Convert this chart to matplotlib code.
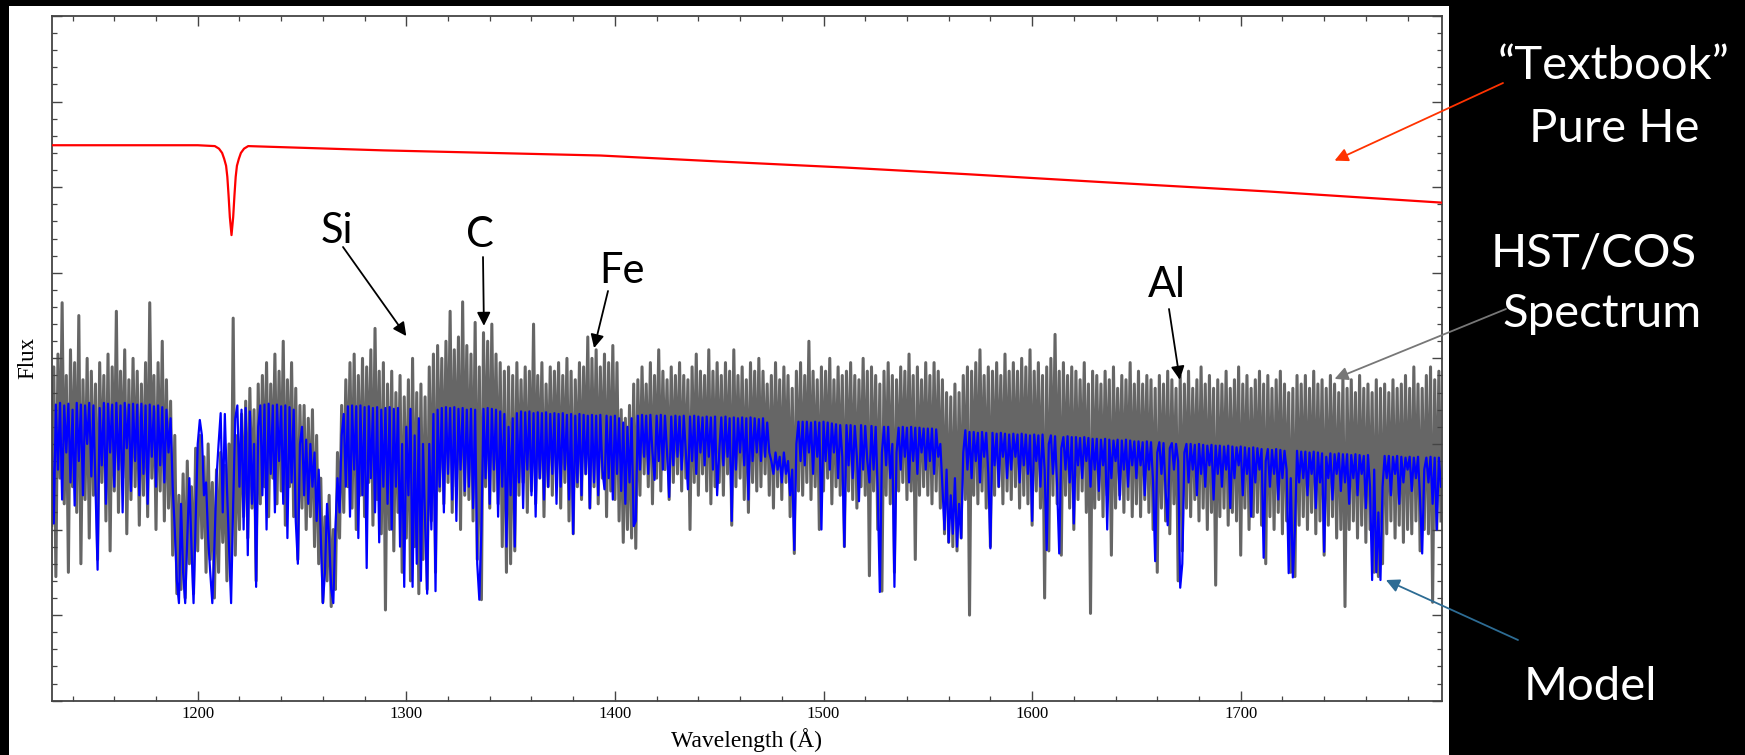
import numpy as np
import matplotlib
matplotlib.use('Agg')
import matplotlib.pyplot as plt
from matplotlib.patches import Rectangle
from matplotlib.ticker import MultipleLocator, NullFormatter

# ---- data (flux in arbitrary units, 1 A steps) ----
wl_start = 1130
# observed HST/COS spectrum, hundredths of a flux unit
gray_flux = [
    205,390,145,405,260,465,230,380,150,410,250,395,220,450,160,375,235,400,190,385,
    240,370,165,395,255,380,210,405,175,390,245,455,220,385,260,410,195,375,235,400,
    250,385,205,370,240,395,215,465,260,380,200,395,245,420,210,375,225,350,170,310,
    125,240,130,265,120,280,160,250,125,295,175,310,190,285,150,300,165,255,120,270,
    150,290,185,275,140,300,160,447,170,310,200,335,215,350,190,365,225,340,140,370,
    230,380,250,395,215,370,260,405,230,385,245,420,205,375,250,395,215,365,165,345,
    225,345,200,330,215,340,180,310,160,260,115,215,140,240,110,200,130,290,190,345,
    220,375,250,395,225,405,200,380,240,400,215,390,255,410,205,435,235,385,195,395,
    106,370,200,385,175,360,220,380,150,355,190,375,140,400,180,360,125,370,165,355,
    130,390,210,405,150,415,245,400,230,420,255,455,220,410,250,425,200,466,240,415,
    235,405,210,442,165,390,118,430,250,420,225,440,245,405,230,395,180,385,150,390,
    160,380,175,395,240,375,255,390,220,385,245,440,230,380,260,395,215,370,250,390,
    240,385,265,395,225,380,255,400,210,385,195,375,250,395,235,390,265,425,225,400,
    250,410,230,390,260,405,215,395,245,415,235,395,210,340,185,330,200,345,190,370,
    178,375,240,390,265,370,250,395,230,380,260,410,245,385,270,375,235,390,255,380,
    265,395,245,380,260,375,200,390,255,405,240,385,265,380,245,410,230,385,250,395,
    255,380,240,395,265,385,205,410,250,380,260,390,235,375,220,395,255,385,245,400,
    250,385,265,370,240,380,225,395,250,375,235,390,255,380,215,365,172,385,245,395,
    240,380,255,420,235,385,250,375,200,390,245,385,260,400,230,375,250,390,240,380,
    180,385,245,395,235,380,225,375,250,400,240,385,146,390,245,380,200,370,128,385,
    240,395,230,380,150,375,245,390,255,385,235,405,245,380,165,390,240,375,250,395,
    240,380,230,395,245,385,225,375,195,360,185,355,180,370,175,360,190,380,235,390,
    100,385,240,395,230,410,245,380,225,390,180,385,240,395,250,380,230,405,245,385,
    235,395,250,385,225,400,240,390,230,410,205,385,245,395,225,380,120,390,175,400,
    240,428,230,385,170,395,240,380,225,390,200,385,235,375,245,395,220,370,102,385,
    225,380,235,370,215,385,240,375,170,390,225,365,240,380,220,375,235,395,215,370,
    230,385,215,370,235,380,220,375,200,365,150,380,225,370,210,385,195,375,230,365,
    140,380,175,370,225,385,215,365,235,375,210,390,225,370,200,380,220,365,135,375,
    215,370,225,385,205,365,220,375,210,390,170,370,225,380,200,365,215,375,220,385,
    205,370,160,380,215,365,200,375,220,385,195,370,210,360,150,365,145,380,205,370,
    215,380,200,365,220,385,195,370,210,375,170,365,205,380,215,370,190,360,200,378,
    110,365,200,375,210,360,190,380,205,365,185,370,200,360,150,375,145,365,160,370,
    195,360,210,375,190,365,205,370,185,380,200,365,195,390,210,370,175,365,200,380,
    195,390,115,375,200,385,210,
]
# model spectrum, hundredths of a flux unit
model_flux = [
    300,207,346,270,348,235,345,290,347,255,340,228,348,280,346,240,345,300,348,262,
    345,250,153,342,275,348,230,347,290,346,250,348,270,345,220,348,295,346,245,347,
    280,346,240,347,265,345,230,346,285,344,250,345,275,343,255,340,290,330,250,200,
    140,114,230,150,114,190,260,180,114,210,300,328,310,240,255,190,150,114,180,260,
    300,336,220,335,250,180,114,230,330,345,250,340,200,342,170,338,230,300,133,320,
    345,240,346,200,347,265,345,220,346,280,344,230,345,190,343,255,340,210,160,300,
    320,240,305,230,300,250,290,210,270,190,114,150,230,190,130,114,200,260,220,310,
    335,250,344,215,345,270,344,190,345,240,343,155,344,260,342,220,343,185,340,250,
    342,230,343,200,341,250,342,180,300,133,320,240,341,133,310,160,330,140,300,210,
    125,300,200,335,128,340,250,342,220,343,265,342,235,343,210,341,270,342,245,340,
    250,341,225,340,160,118,200,341,260,342,230,341,270,340,215,338,250,335,180,320,
    240,330,180,336,255,338,225,337,270,338,240,336,215,337,260,336,235,337,250,335,
    265,336,230,335,250,336,270,334,235,335,195,333,255,335,240,334,265,333,225,334,
    255,333,240,334,270,247,333,260,332,235,333,265,330,245,325,230,320,255,330,204,
    210,333,270,334,285,333,265,334,290,258,333,280,334,270,333,290,238,332,275,333,
    285,332,270,333,290,247,332,280,333,265,332,290,331,275,332,285,331,270,332,240,
    290,331,275,332,285,330,210,331,270,330,290,331,275,330,235,331,280,330,290,329,
    280,330,285,325,290,280,265,290,270,285,255,290,265,280,240,270,176,300,326,280,
    326,275,326,290,325,265,326,285,325,200,326,280,325,270,324,290,323,260,322,285,
    180,322,275,322,260,321,285,233,322,270,321,280,255,321,270,320,245,127,290,320,
    275,320,260,300,133,290,319,270,320,285,319,255,320,280,319,265,319,290,318,270,
    318,280,318,265,317,285,300,250,200,270,185,240,195,260,180,230,190,290,316,270,
    314,260,314,280,313,255,314,285,313,265,178,313,275,312,250,313,285,312,260,311,
    270,312,285,311,255,312,275,311,265,310,210,311,280,310,250,311,270,176,300,310,
    265,309,250,172,295,308,270,309,255,308,207,308,275,307,260,308,280,307,250,306,
    270,306,245,305,275,306,200,305,260,304,280,305,235,304,270,305,250,304,275,303,
    260,303,275,302,240,303,270,302,255,163,290,302,265,301,245,205,295,301,270,300,
    280,132,160,290,300,255,300,270,299,240,300,265,299,250,298,275,299,235,298,265,
    298,250,297,270,298,225,297,260,296,275,297,240,296,265,295,215,296,255,295,270,
    294,167,280,294,250,293,265,294,235,293,260,292,270,149,260,144,200,292,255,291,
    260,291,240,290,265,291,225,290,255,289,174,285,260,289,235,288,265,289,245,288,
    255,288,230,287,260,288,240,287,265,286,225,287,250,141,270,150,220,141,250,286,
    260,286,240,285,265,286,230,285,255,284,270,285,245,284,260,285,235,172,270,284,
    255,285,230,284,200,284,250,
]
# "textbook" pure-He model: smooth continuum with Ly-alpha
he_wl = [1130, 1200, 1208.2, 1210.2, 1211.7, 1212.7, 1213.6, 1214.2, 1214.8, 1215.4,
         1216.2, 1217.0, 1217.6, 1218.2, 1218.8, 1219.7, 1220.7, 1222.2, 1224.2,
         1289, 1393, 1450, 1510, 1570, 1633, 1713, 1796]
he_flux = [6.49, 6.49, 6.48, 6.45, 6.40, 6.33, 6.25, 6.12, 5.90, 5.65,
           5.44, 5.65, 5.90, 6.12, 6.25, 6.33, 6.40, 6.45, 6.48,
           6.43, 6.37, 6.30, 6.23, 6.15, 6.06, 5.95, 5.82]

# element labels: name, arrow tip (wavelength, flux)
elements = ['Si', 'C', 'Fe', 'Al']
element_tip = [(1300, 4.26), (1337.2, 4.38), (1390, 4.12), (1670.8, 3.75)]

assert len(gray_flux) == len(model_flux) == 667
wl = wl_start + np.arange(len(gray_flux))
gray = np.array(gray_flux) / 100.0
model = np.array(model_flux) / 100.0

W, H = 1745, 755


def px(x, y):
    # pixel position (top-left origin) -> figure fraction
    return (x / W, 1 - y / H)


fig = plt.figure(figsize=(W / 100, H / 100), dpi=100, facecolor='black')
# white panel behind the plot
fig.patches.append(Rectangle((9 / W, 0), 1440 / W, 749 / H, transform=fig.transFigure,
                             facecolor='white', edgecolor='none', zorder=-5))
ax = fig.add_axes([51.7 / W, 1 - 700.7 / H, (1442 - 51.7) / W, (700.7 - 16) / H])
ax.set_facecolor('white')

ax.plot(wl, gray, color='#666666', lw=2.2, zorder=1)
ax.plot(wl, model, color='#0000ff', lw=1.6, zorder=2)
ax.plot(he_wl, he_flux, color='#ff0000', lw=1.6, zorder=3)

ax.set_xlim(1130, 1796.5)
ax.set_ylim(0, 8)
ax.xaxis.set_major_locator(MultipleLocator(100))
ax.xaxis.set_minor_locator(MultipleLocator(20))
ax.yaxis.set_major_locator(MultipleLocator(1))
ax.yaxis.set_minor_locator(MultipleLocator(0.2))
ax.yaxis.set_major_formatter(NullFormatter())
ax.tick_params(which='both', direction='in', top=True, right=True, colors='#444444',
               labelcolor='black', labelsize=12)
ax.tick_params(which='major', length=7, width=1)
ax.tick_params(which='minor', length=3.5, width=0.9)
for lab in ax.get_xticklabels():
    lab.set_family('Liberation Serif')
for sp in ax.spines.values():
    sp.set_color('#444444')
    sp.set_linewidth(1.3)

ax.set_xlabel('Wavelength (Å)', fontsize=17, family='Liberation Serif', labelpad=5)
ax.set_ylabel('Flux', fontsize=16.5, family='Liberation Serif', labelpad=6)

# element labels with black arrows
label_pos = [(337, 243), (480, 247), (622, 283), (1167, 297)]
arrow_tail = [(343, 247), (483, 257), (608, 291), (1169, 309)]
for name, tip, lp, tail in zip(elements, element_tip, label_pos, arrow_tail):
    fig.text(*px(*lp), name, ha='center', va='baseline', fontsize=30,
             family='Lato', color='black')
    ax.annotate('', xy=tip, xycoords='data', xytext=px(*tail), textcoords='figure fraction',
                arrowprops=dict(arrowstyle='-|>', color='black', lw=1.3,
                                mutation_scale=20, shrinkA=0, shrinkB=0),
                annotation_clip=False)

# white captions on the black side
captions = [('\u201cTextbook\u201d', 1614, 79), ('Pure He', 1614, 142),
            ('HST/COS', 1594, 266), ('Spectrum', 1602, 327), ('Model', 1590, 700)]
for txt, x, y in captions:
    fig.text(*px(x, y), txt, ha='center', va='baseline', fontsize=34,
             family='Lato', color='white')

side_arrows = [((1745, 6.31), (1503, 83), '#ff3300'),
               ((1745, 3.76), (1506, 309), '#777777'),
               ((1769.6, 1.41), (1518, 640), '#2d6c94')]
for tip, tail, col in side_arrows:
    ax.annotate('', xy=tip, xycoords='data', xytext=px(*tail), textcoords='figure fraction',
                arrowprops=dict(arrowstyle='-|>', color=col, lw=1.3,
                                mutation_scale=20, shrinkA=0, shrinkB=0),
                annotation_clip=False)

fig.savefig('out.png', dpi=100, facecolor='black')
